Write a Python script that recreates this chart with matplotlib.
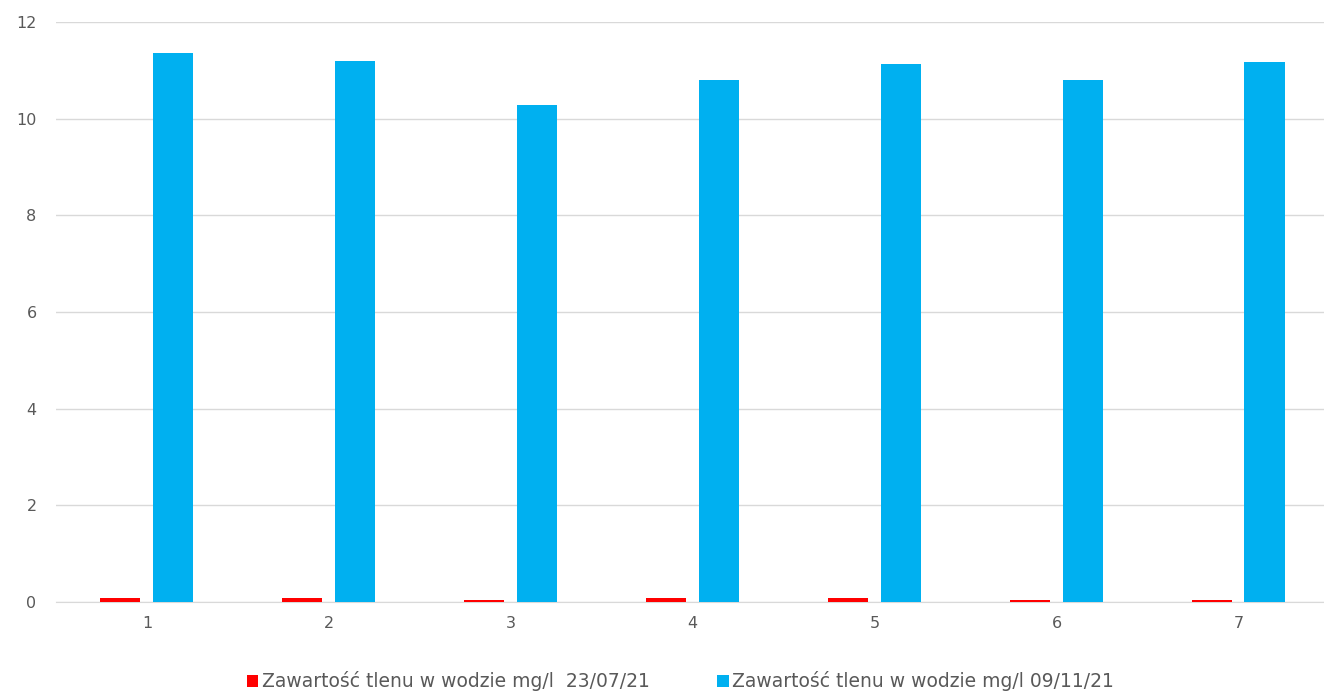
import matplotlib.pyplot as plt
import numpy as np

# data
categories = ['1', '2', '3', '4', '5', '6', '7']
tlen_2307 = [0.08, 0.08, 0.04, 0.08, 0.08, 0.04, 0.04]
tlen_0911 = [11.36, 11.19, 10.28, 10.80, 11.13, 10.80, 11.17]
labels = ['Zawartość tlenu w wodzie mg/l  23/07/21',
          'Zawartość tlenu w wodzie mg/l 09/11/21']

fig = plt.figure(figsize=(13.24, 6.95), dpi=100)
ax = fig.add_axes([56 / 1324, 93 / 695, 1268 / 1324, 580 / 695])

x = np.arange(1, len(categories) + 1)
w = 0.22
ax.bar(x - 0.148, tlen_2307, width=w, color='#FF0000', label=labels[0], zorder=3)
ax.bar(x + 0.143, tlen_0911, width=w, color='#00B0F0', label=labels[1], zorder=3)

ax.set_xlim(0.5, 7.47)
ax.set_ylim(0, 12)
ax.set_yticks(range(0, 13, 2))
ax.set_xticks(x)
ax.set_xticklabels(categories)
ax.yaxis.grid(True, color='#D9D9D9', lw=1, zorder=0)
ax.set_axisbelow(True)
for s in ['top', 'right', 'left']:
    ax.spines[s].set_visible(False)
ax.spines['bottom'].set_color('#D9D9D9')
ax.tick_params(axis='both', length=0, colors='#595959', labelsize=11.5)
ax.tick_params(axis='y', pad=14)
ax.tick_params(axis='x', pad=10)

leg = fig.legend(loc='lower center', bbox_to_anchor=(0.514, -0.019), ncol=2,
                 frameon=False, fontsize=13.5, handlelength=0.6, handleheight=0.6,
                 handletextpad=0.2, columnspacing=3.6)
for t in leg.get_texts():
    t.set_color('#595959')

fig.savefig('out.png', dpi=100)
